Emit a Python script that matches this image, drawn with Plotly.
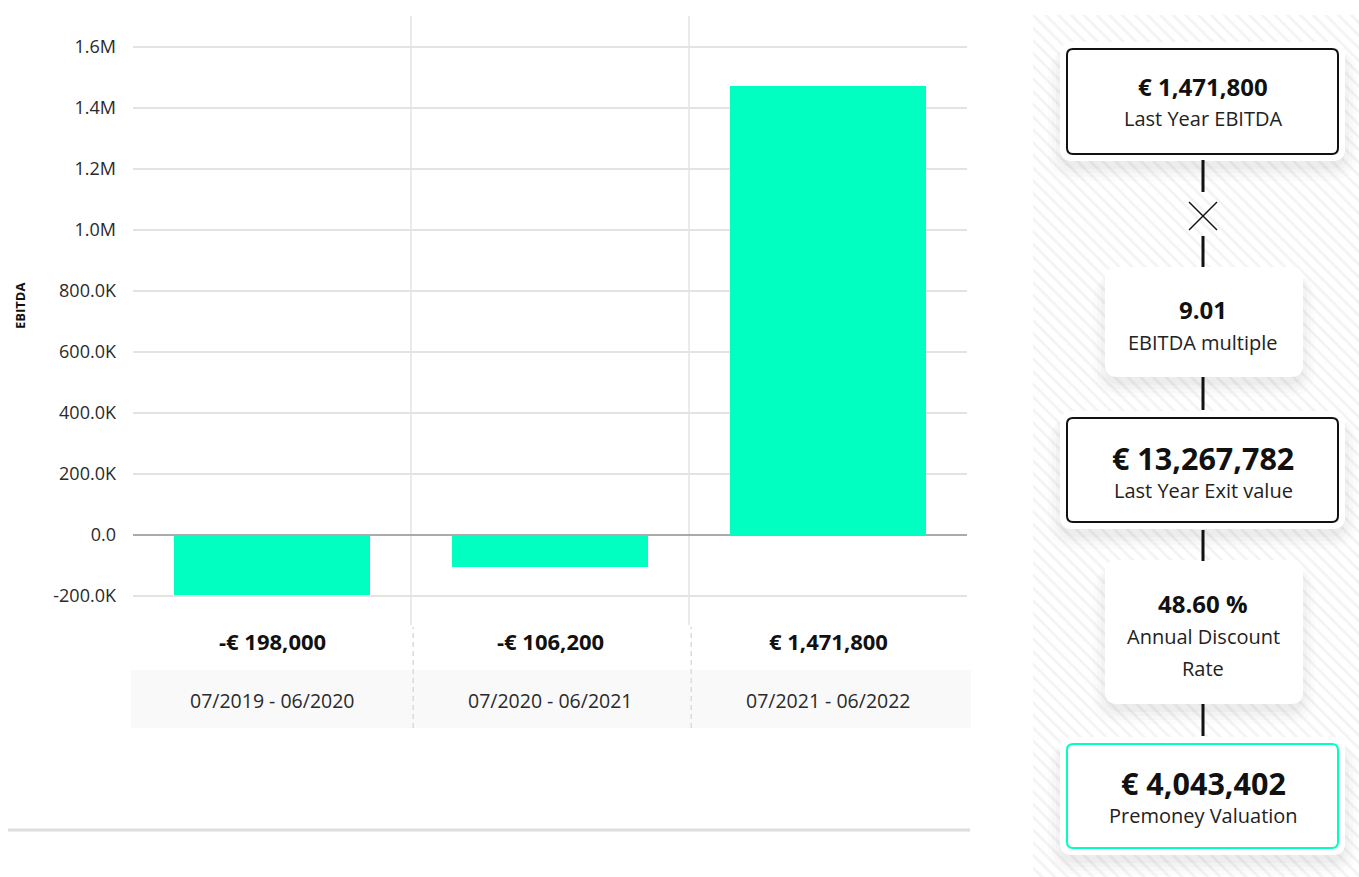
import plotly.graph_objects as go

W, H = 1359, 877

# ---------------- data ----------------
periods = ["07/2019 - 06/2020", "07/2020 - 06/2021", "07/2021 - 06/2022"]
ebitda = [-198000, -106200, 1471800]
value_labels = ["-€ 198,000", "-€ 106,200", "€ 1,471,800"]
ytick_vals = [-200000, 0, 200000, 400000, 600000, 800000, 1000000, 1200000, 1400000, 1600000]
ytick_text = ["-200.0K", "0.0", "200.0K", "400.0K", "600.0K", "800.0K", "1.0M", "1.2M", "1.4M", "1.6M"]

summary_values = ["€ 1,471,800", "9.01", "€ 13,267,782", "48.60 %", "€ 4,043,402"]
summary_labels = [["Last Year EBITDA"], ["EBITDA multiple"], ["Last Year Exit value"],
                  ["Annual Discount", "Rate"], ["Premoney Valuation"]]

FONT = "Open Sans"
TEAL = "#00FFC0"


def px(x):
    return x / W


def py(y):
    return 1 - y / H


fig = go.Figure()

# hatched panel background (decorative)
fig.add_trace(go.Bar(
    x=[0], y=[1], width=[1], xaxis="x2", yaxis="y2",
    marker=dict(color="white", line=dict(width=0),
                pattern=dict(shape="\\", fgcolor="#e8e8e8", bgcolor="white", size=9, solidity=0.3)),
    hoverinfo="skip", showlegend=False))

# main bars
fig.add_trace(go.Bar(
    x=periods, y=ebitda, width=0.705,
    marker=dict(color=TEAL, line=dict(width=0)),
    showlegend=False, hoverinfo="skip"))

plot_top, plot_bot = 16, 625
y0_px, step_px = 535, 61.0
ymax = (y0_px - plot_top) / step_px * 200000
ymin = (y0_px - plot_bot) / step_px * 200000

shapes = []
annotations = []

# category separators (solid in plot, dashed below)
for b in [0.5, 1.5]:
    shapes.append(dict(type="line", xref="x", yref="paper", x0=b, x1=b,
                       y0=py(plot_bot), y1=py(plot_top), line=dict(color="#e3e3e3", width=1.5), layer="below"))
# grey band behind period labels
shapes.append(dict(type="rect", xref="paper", yref="paper", x0=px(131), x1=px(971), y0=py(728), y1=py(670),
                   fillcolor="#f9f9f9", line=dict(width=0), layer="below"))
for b in [0.5, 1.5]:
    shapes.append(dict(type="line", xref="x", yref="paper", x0=b + 0.008, x1=b + 0.008,
                       y0=py(728), y1=py(627), line=dict(color="#dcdcdc", width=1.5, dash="5px,4px")))
# bottom rule
shapes.append(dict(type="line", xref="paper", yref="paper", x0=px(8), x1=px(970), y0=py(830), y1=py(830),
                   line=dict(color="#dddddd", width=3)))

for i, p in enumerate(periods):
    annotations.append(dict(x=p, xref="x", y=py(641), yref="paper", text="<b>%s</b>" % value_labels[i],
                            showarrow=False, font=dict(family=FONT, size=22, color="#111"),
                            xanchor="center", yanchor="middle"))
    annotations.append(dict(x=p, xref="x", y=py(700), yref="paper", text=periods[i],
                            showarrow=False, font=dict(family=FONT, size=19.5, color="#2a2a2a"),
                            xanchor="center", yanchor="middle"))

annotations.append(dict(x=px(20), y=py(306), xref="paper", yref="paper", text="<b>EBITDA</b>", textangle=-90,
                        xanchor="center", yanchor="middle",
                        showarrow=False, font=dict(family=FONT, size=13, color="#111")))


def rrect(x0, y0, x1, y1, r):
    X0, X1 = px(x0), px(x1)
    Y0, Y1 = py(y0), py(y1)
    rx, ry = r / W, r / H
    return ("M %f,%f L %f,%f Q %f,%f %f,%f L %f,%f Q %f,%f %f,%f L %f,%f Q %f,%f %f,%f L %f,%f Q %f,%f %f,%f Z" % (
        X0 + rx, Y0, X1 - rx, Y0, X1, Y0, X1, Y0 - ry, X1, Y1 + ry, X1, Y1, X1 - rx, Y1,
        X0 + rx, Y1, X0, Y1, X0, Y1 + ry, X0, Y0 - ry, X0, Y0, X0 + rx, Y0))


# boxes: (x0, y0, x1, y1, border colour or None)
boxes = [
    (1067, 49, 1338, 154, "#111"),
    (1105, 267, 1303, 377, None),
    (1067, 418, 1338, 522, "#111"),
    (1105, 560, 1303, 704, None),
    (1067, 744, 1338, 848, TEAL),
]
# value y, first label y, value font size
text_pos = [
    (87, 119, 24), (309, 342, 24), (458, 490, 30.5), (603, 636, 24), (783, 815, 30.5)
]

for (x0, y0, x1, y1, bc) in boxes:
    pad = 7 if bc else 0
    # soft shadow
    for k, a in enumerate([0.022, 0.02, 0.016, 0.012]):
        e = 4 + 4 * k
        shapes.append(dict(type="path", xref="paper", yref="paper",
                           path=rrect(x0 - pad - e + 4, y0 - pad + 6, x1 + pad + e - 4, y1 + pad + e + 4, 12 + e),
                           fillcolor="rgba(0,0,0,%f)" % a, line=dict(width=0)))
    shapes.append(dict(type="path", xref="paper", yref="paper",
                       path=rrect(x0 - pad, y0 - pad, x1 + pad, y1 + pad, 12),
                       fillcolor="white", line=dict(width=0)))
    if bc:
        shapes.append(dict(type="path", xref="paper", yref="paper",
                           path=rrect(x0, y0, x1, y1, 6),
                           fillcolor="white", line=dict(color=bc, width=2)))

cx = 1203
for (ya, yb) in [(160, 192), (236, 267), (377, 410), (530, 561), (704, 736)]:
    shapes.append(dict(type="line", xref="paper", yref="paper", x0=px(cx), x1=px(cx), y0=py(ya), y1=py(yb),
                       line=dict(color="#111", width=3)))
shapes.append(dict(type="line", xref="paper", yref="paper", x0=px(1189), x1=px(1217), y0=py(202), y1=py(230),
                   line=dict(color="#111", width=1.5)))
shapes.append(dict(type="line", xref="paper", yref="paper", x0=px(1189), x1=px(1217), y0=py(230), y1=py(202),
                   line=dict(color="#111", width=1.5)))

for i, (yv, yl, fs) in enumerate(text_pos):
    annotations.append(dict(x=px(cx), y=py(yv), xref="paper", yref="paper",
                            text="<b>%s</b>" % summary_values[i], showarrow=False,
                            xanchor="center", yanchor="middle",
                            font=dict(family=FONT, size=fs, color="#111")))
    for j, line in enumerate(summary_labels[i]):
        annotations.append(dict(x=px(cx), y=py(yl + 32 * j), xref="paper", yref="paper",
                                text=line, showarrow=False, xanchor="center", yanchor="middle",
                                font=dict(family=FONT, size=20, color="#222")))

fig.update_layout(
    width=W, height=H, margin=dict(l=0, r=0, t=0, b=0),
    paper_bgcolor="white", plot_bgcolor="white",
    bargap=0,
    xaxis=dict(domain=[px(133), px(967)], range=[-0.5, 2.5], showticklabels=False, showgrid=False,
               zeroline=False, fixedrange=True),
    yaxis=dict(domain=[py(plot_bot), py(plot_top)], range=[ymin, ymax], tickvals=ytick_vals, ticktext=ytick_text,
               showgrid=True, gridcolor="#e3e3e3", gridwidth=1.5, zeroline=True, zerolinecolor="#aaaaaa",
               zerolinewidth=1.5, ticks="", ticklabelstandoff=16,
               tickfont=dict(family=FONT, size=18, color="#2a2a2a")),
    xaxis2=dict(domain=[px(1033), 1], range=[-0.5, 0.5], visible=False, fixedrange=True),
    yaxis2=dict(domain=[0, py(15)], range=[0, 1], visible=False, fixedrange=True, anchor="x2"),
    shapes=shapes, annotations=annotations,
)

fig.write_html("out.html")
